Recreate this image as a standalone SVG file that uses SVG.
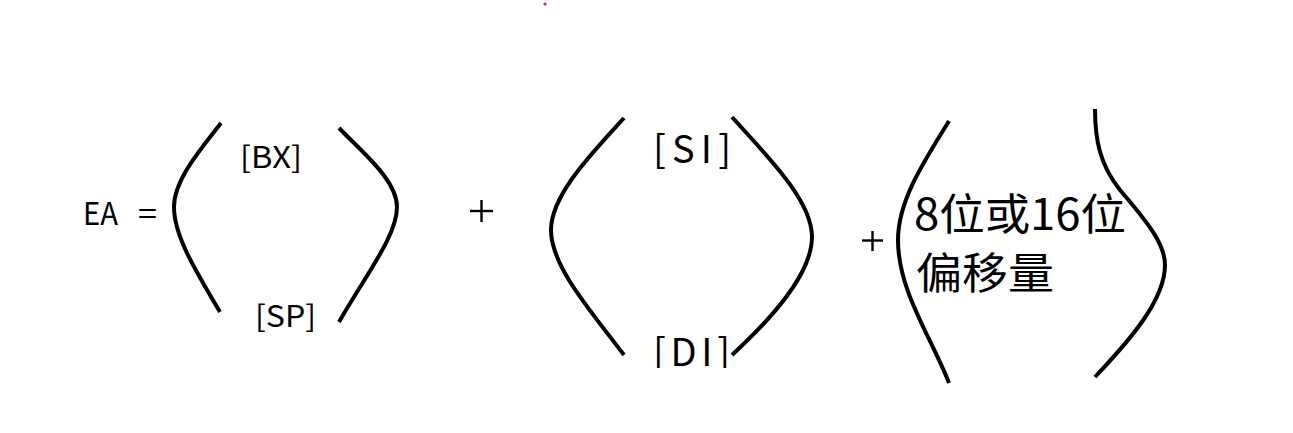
<svg xmlns="http://www.w3.org/2000/svg" width="1293" height="433" viewBox="0 0 1293 433">
<style>
.paren{fill:none;stroke:#000;stroke-width:4;stroke-linecap:butt}
.t{font-family:"Noto Sans CJK SC","Liberation Sans",sans-serif;fill:#000}
.op{stroke:#000;stroke-width:2.4}
</style>
<defs>
<clipPath id="clipDI"><rect x="600" y="300" width="200" height="68"/></clipPath>
</defs>
<rect width="1293" height="433" fill="#fff"/>
<circle cx="545" cy="4" r="1.6" fill="#e02828"/>
<g id="lhs">
<text class="t" x="83" y="225" font-size="31" textLength="35" lengthAdjust="spacingAndGlyphs">EA</text>
<text class="t" x="138" y="225" font-size="31" textLength="19" lengthAdjust="spacingAndGlyphs">=</text>
</g>
<g id="group1">
<path class="paren" d="M221,123 C200,150 174,180 174,207 C174,234 192,265 220,312"/>
<path class="paren" d="M339,128 C362,152 397,180 397,207 C397,236 365,276 339,322"/>
<text class="t" x="240" y="168" font-size="30" textLength="62" lengthAdjust="spacingAndGlyphs">[BX]</text>
<text class="t" x="255" y="327" font-size="30" textLength="61" lengthAdjust="spacingAndGlyphs">[SP]</text>
</g>
<g id="plus1">
<line class="op" x1="470" y1="211" x2="493" y2="211"/>
<line class="op" x1="481.5" y1="200" x2="481.5" y2="222"/>
</g>
<g id="group2">
<path class="paren" d="M624,118 C592,153 551,195 551,230 C551,266 590,310 624,355"/>
<path class="paren" d="M732,117 C766,155 812,200 812,237 C812,275 770,320 732,355"/>
<text class="t" x="653" y="163" font-size="38" textLength="78" lengthAdjust="spacing">[SI]</text>
<text class="t" x="653" y="366" font-size="38" textLength="77" lengthAdjust="spacing" clip-path="url(#clipDI)">[DI]</text>
</g>
<g id="plus2">
<line class="op" x1="862" y1="240.5" x2="883" y2="240.5"/>
<line class="op" x1="872.5" y1="231" x2="872.5" y2="251"/>
</g>
<g id="group3">
<path class="paren" d="M949,121 C925,160 898,200 898,240 C898,290 930,335 949,383"/>
<path class="paren" d="M1095,109 C1095,140 1100,165 1120,190 C1150,225 1165,245 1165,265 C1165,300 1130,340 1095,377"/>
<text class="t" x="914" y="230" font-size="43" textLength="212" lengthAdjust="spacingAndGlyphs">8位或16位</text>
<text class="t" x="916" y="289" font-size="43" textLength="138" lengthAdjust="spacingAndGlyphs">偏移量</text>
</g>
</svg>
